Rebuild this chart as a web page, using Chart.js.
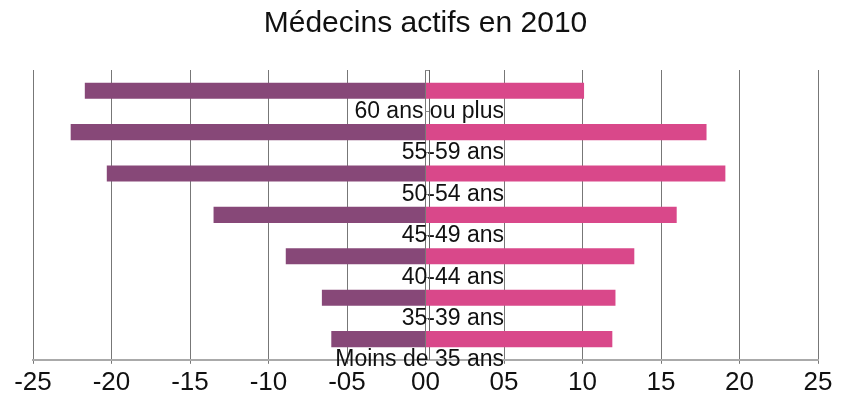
<!DOCTYPE html>
<html>
<head>
<meta charset="utf-8">
<script src="https://cdn.jsdelivr.net/npm/chart.js@4/dist/chart.umd.min.js"></script>
<style>
  html, body { margin: 0; padding: 0; background: #fff; }
  #wrap { width: 849px; height: 402px; position: relative; }
</style>
</head>
<body>
<div id="wrap"><canvas id="myChart"></canvas></div>
<script>
// tranches d'age, du haut vers le bas
const categories = ['60 ans ou plus', '55-59 ans', '50-54 ans', '45-49 ans', '40-44 ans', '35-39 ans', 'Moins de 35 ans'];
// valeurs (gauche en negatif)
const leftValues = [-21.7, -22.6, -20.3, -13.5, -8.9, -6.6, -6.0];
const rightValues = [10.1, 17.9, 19.1, 16.0, 13.3, 12.1, 11.9];
const tickLabels = ['-25', '-20', '-15', '-10', '-05', '00', '05', '10', '15', '20', '25'];

const fontFamily = "'Liberation Sans', Arial, Helvetica, sans-serif";

const drawChart = (canvas) => {
    new Chart(canvas, {
        type: 'bar',
        data: {
            labels: categories,
            datasets: [{
                label: 'Hommes',
                backgroundColor: '#874878',
                data: leftValues,
                stack: 'pyr',
            }, {
                label: 'Femmes',
                backgroundColor: '#d9488a',
                data: rightValues,
                stack: 'pyr',
            }],
        },
        options: {
            indexAxis: 'y',
            responsive: true,
            maintainAspectRatio: false,
            animation: false,
            categoryPercentage: 1,
            barPercentage: 0.39,
            layout: { padding: { left: 33, right: 31, top: 0, bottom: 1 } },
            plugins: {
                legend: { display: false },
                tooltip: { enabled: false },
                title: {
                    display: true,
                    text: 'Médecins actifs en 2010',
                    color: '#111',
                    font: { family: fontFamily, size: 30, weight: 'normal' },
                    padding: { top: 6, bottom: 28 },
                },
            },
            scales: {
                x: {
                    type: 'linear',
                    stacked: true,
                    min: -25,
                    max: 25,
                    grid: { color: '#777', lineWidth: 1, tickLength: 4 },
                    border: { color: '#aaa', width: 2 },
                    ticks: {
                        stepSize: 5,
                        padding: 3,
                        color: '#111',
                        font: { family: fontFamily, size: 26 },
                        callback: (v, i) => tickLabels[i],
                    },
                },
                y: {
                    type: 'category',
                    stacked: true,
                    position: { x: 5 },
                    offset: true,
                    grid: { display: false, drawTicks: false },
                    border: { display: false },
                    ticks: {
                        padding: 0,
                        labelOffset: 21,
                        color: '#111',
                        font: { family: fontFamily, size: 23 },
                    },
                },
                y2: {
                    type: 'category',
                    position: { x: 0.25 },
                    offset: true,
                    grid: { drawOnChartArea: false, tickLength: 4, color: '#888' },
                    border: { display: true, color: '#666', width: 1 },
                    ticks: { display: false },
                },
            },
        },
    });
};

drawChart(document.getElementById('myChart'));
</script>
</body>
</html>
